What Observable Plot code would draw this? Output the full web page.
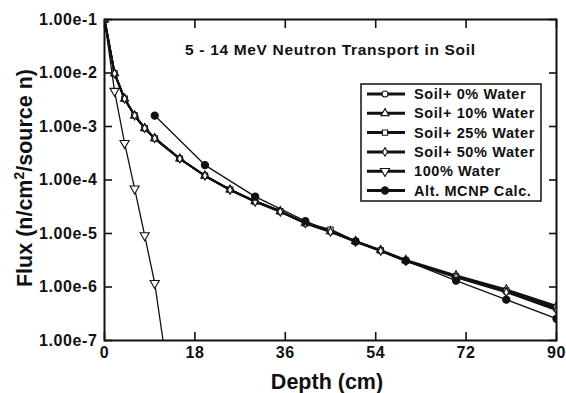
<!DOCTYPE html>
<html>
<head>
<meta charset="utf-8">
<script src="https://cdn.jsdelivr.net/npm/d3@7"></script>
<script src="https://cdn.jsdelivr.net/npm/@observablehq/plot@0.6"></script>
<style>
  html, body { margin: 0; padding: 0; background: white; }
  svg text { font-family: "Liberation Sans", Arial, Helvetica, sans-serif; font-weight: bold; }
</style>
</head>
<body>
<div id="chart"></div>
<script>
// ---- data ----
const depthSoil = [0, 2, 4, 6, 8, 10, 15, 20, 25, 30, 35, 40, 45, 50, 55, 60, 70, 80, 90];
const soil0  = [0.1, 9.8e-3, 3.3e-3, 1.6e-3, 9.3e-4, 6.0e-4, 2.5e-4, 1.2e-4, 6.6e-5, 4.0e-5, 2.6e-5, 1.56e-5, 1.09e-5, 7.1e-6, 4.8e-6, 3.1e-6, 1.55e-6, 8.2e-7, 3.9e-7];
const soil10 = [0.1, 9.8e-3, 3.3e-3, 1.6e-3, 9.3e-4, 6.0e-4, 2.5e-4, 1.2e-4, 6.6e-5, 4.0e-5, 2.6e-5, 1.58e-5, 1.1e-5, 7.2e-6, 4.9e-6, 3.2e-6, 1.65e-6, 9.0e-7, 4.4e-7];
const soil25 = [0.1, 9.8e-3, 3.3e-3, 1.6e-3, 9.3e-4, 6.0e-4, 2.5e-4, 1.2e-4, 6.6e-5, 4.0e-5, 2.6e-5, 1.56e-5, 1.18e-5, 7.1e-6, 4.8e-6, 3.1e-6, 1.58e-6, 8.5e-7, 4.1e-7];
const soil50 = [0.1, 9.8e-3, 3.3e-3, 1.6e-3, 9.3e-4, 6.0e-4, 2.5e-4, 1.2e-4, 6.5e-5, 3.9e-5, 2.55e-5, 1.54e-5, 1.07e-5, 7.0e-6, 4.7e-6, 3.05e-6, 1.52e-6, 8.0e-7, 3.7e-7];
const depthWater = [0, 2, 4, 6, 8, 10, 12];
const water100 = [0.1, 4.6e-3, 4.9e-4, 6.9e-5, 9.2e-6, 1.18e-6, 6.0e-8];
const depthAlt = [10, 20, 30, 40, 50, 60, 70, 80, 90];
const altMCNP = [1.6e-3, 1.9e-4, 4.9e-5, 1.7e-5, 7.1e-6, 3.1e-6, 1.32e-6, 5.8e-7, 2.55e-7];

const seriesNames = ["Soil+ 0% Water", "Soil+ 10% Water", "Soil+ 25% Water", "Soil+ 50% Water", "100% Water", "Alt. MCNP Calc."];
const xTicks = [0, 18, 36, 54, 72, 90];
const yTicks = [1e-1, 1e-2, 1e-3, 1e-4, 1e-5, 1e-6, 1e-7];
const titleText = "5 - 14 MeV Neutron Transport in Soil";
const xLabel = "Depth (cm)";

// ---- styles per series ----
const styles = [
  {symbol: "circle",   fill: "white", r: 3,   width: 2,   rotate: 0},
  {symbol: "triangle", fill: "white", r: 3,   width: 2,   rotate: 0},
  {symbol: "square",   fill: "white", r: 3,   width: 2,   rotate: 0},
  {symbol: "diamond",  fill: "white", r: 2.6, width: 2,   rotate: 0},
  {symbol: "triangle", fill: "white", r: 3.4, width: 1.3, rotate: 180},
  {symbol: "circle",   fill: "#111",  r: 3.6, width: 1.3, rotate: 0}
];

const seriesData = [
  depthSoil.map((d, i) => ({depth: d, flux: soil0[i]})),
  depthSoil.map((d, i) => ({depth: d, flux: soil10[i]})),
  depthSoil.map((d, i) => ({depth: d, flux: soil25[i]})),
  depthSoil.map((d, i) => ({depth: d, flux: soil50[i]})),
  depthWater.map((d, i) => ({depth: d, flux: water100[i]})),
  depthAlt.map((d, i) => ({depth: d, flux: altMCNP[i]}))
];

const marks = [];
seriesData.forEach((data, k) => {
  const s = styles[k];
  marks.push(Plot.line(data, {x: "depth", y: "flux", stroke: "#111", strokeWidth: s.width, clip: true}));
});
seriesData.forEach((data, k) => {
  const s = styles[k];
  marks.push(Plot.dot(data, {x: "depth", y: "flux", symbol: () => s.symbol, r: s.r, rotate: s.rotate,
    fill: s.fill, stroke: "#111", strokeWidth: 1.1, clip: true}));
});

const fmt = d3.format(".2e");

const plot = Plot.plot({
  width: 566,
  height: 393,
  marginLeft: 104,
  marginRight: 10,
  marginTop: 19,
  marginBottom: 53,
  style: {background: "white", color: "#111", fontSize: "16px", fontWeight: "bold",
          fontFamily: "'Liberation Sans', Arial, sans-serif", overflow: "visible"},
  x: {domain: [0, 90]},
  y: {type: "log", domain: [1e-7, 1e-1]},
  marks: [
    ...marks,
    Plot.axisX({anchor: "bottom", ticks: xTicks, tickSize: -8, tickPadding: 14, label: null, strokeWidth: 1.6}),
    Plot.axisX({anchor: "top", ticks: xTicks, tickSize: -8, text: null, label: null, strokeWidth: 1.6}),
    Plot.axisY({anchor: "left", ticks: yTicks, tickSize: -8, tickPadding: 15, tickFormat: fmt, label: null,
                strokeWidth: 1.6}),
    Plot.axisY({anchor: "right", ticks: yTicks, tickSize: -8, text: null, label: null, strokeWidth: 1.6}),
    Plot.frame({stroke: "#111", strokeWidth: 2})
  ]
});

document.getElementById("chart").appendChild(plot);

// ---- annotations: title, axis labels, legend ----
const svg = d3.select(plot);
svg.selectAll("text").style("letter-spacing", "0.6px");

svg.append("text")
  .attr("x", 185).attr("y", 55)
  .attr("text-anchor", "start")
  .attr("font-size", 15.5).attr("fill", "#111")
  .attr("textLength", 290).attr("lengthAdjust", "spacing")
  .text(titleText);

svg.append("text")
  .attr("x", 327).attr("y", 389)
  .attr("text-anchor", "middle")
  .attr("font-size", 21.5).attr("fill", "#111")
  .text(xLabel);

const yl = svg.append("text")
  .attr("transform", "translate(32,178) rotate(-90)")
  .attr("text-anchor", "middle")
  .attr("font-size", 21.5).attr("fill", "#111");
yl.append("tspan").text("Flux (n/cm");
yl.append("tspan").attr("dy", -8).attr("font-size", 14).text("2");
yl.append("tspan").attr("dy", 8).text("/source n)");

const leg = svg.append("g");
leg.append("rect").attr("x", 361).attr("y", 84).attr("width", 180).attr("height", 117)
  .attr("fill", "white").attr("stroke", "#111").attr("stroke-width", 1.5);
const symMap = {circle: d3.symbolCircle, triangle: d3.symbolTriangle, square: d3.symbolSquare, diamond: d3.symbolDiamond};
seriesNames.forEach((name, k) => {
  const s = styles[k];
  const y = 94 + k * 19.3;
  leg.append("line").attr("x1", 367).attr("x2", 405).attr("y1", y).attr("y2", y)
    .attr("stroke", "#111").attr("stroke-width", 3);
  leg.append("path")
    .attr("d", d3.symbol(symMap[s.symbol], Math.PI * s.r * s.r)())
    .attr("transform", `translate(385,${y}) rotate(${s.rotate})`)
    .attr("fill", s.fill).attr("stroke", "#111").attr("stroke-width", 1.1);
  leg.append("text").attr("x", 414).attr("y", y).attr("dy", "0.35em")
    .attr("text-anchor", "start")
    .attr("font-size", 14.5).attr("fill", "#111").style("letter-spacing", "0.6px")
    .text(name);
});
</script>
</body>
</html>
